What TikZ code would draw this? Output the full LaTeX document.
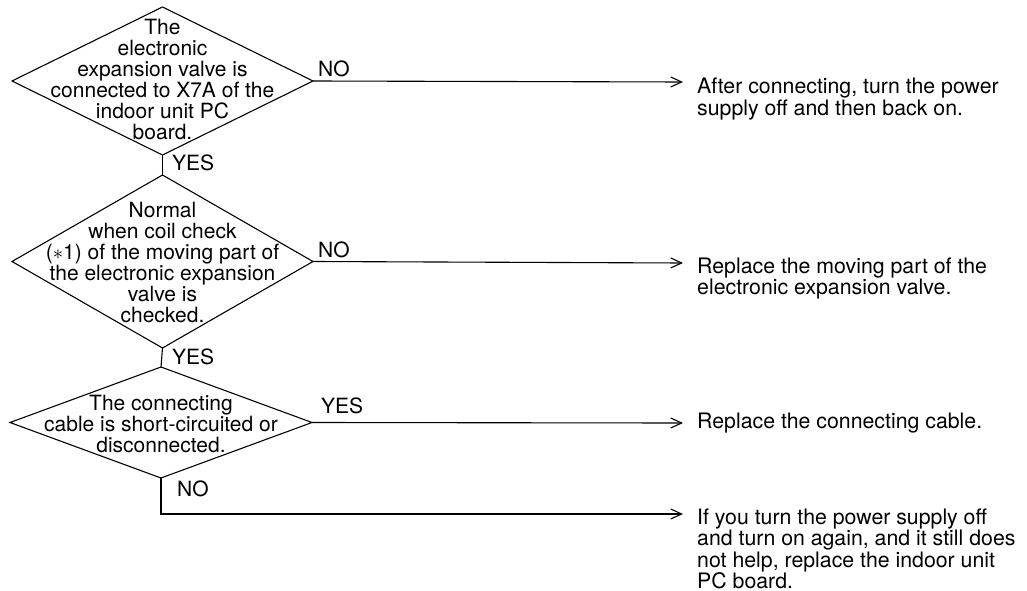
\documentclass[tikz,border=0pt]{standalone}
\usepackage{fontspec}
\setmainfont{TeX Gyre Heros}
\usetikzlibrary{shapes.geometric,arrows.meta}
\tikzset{
  dec/.style={diamond, draw, line width=1.1pt, inner sep=0pt, outer sep=0pt},
  dtext/.style={align=center, inner sep=0pt, font=\fontsize{21}{21}\selectfont},
  rtext/.style={align=left, inner sep=0pt, anchor=north west, font=\fontsize{21.3}{20}\selectfont},
  lab/.style={inner sep=0pt, anchor=base west, font=\fontsize{21}{21}\selectfont},
  conn/.style={line width=1.1pt},
  arr/.style={line width=1.1pt, -{Straight Barb[length=11pt,width=10pt,line width=1.1pt]}},
}
\begin{document}
\begin{tikzpicture}[x=1pt,y=-1pt]
\useasboundingbox (0,0) rectangle (1027,591);
% decisions
\node[dec, minimum width=301pt, minimum height=148pt] (d1) at (162.5,81) {};
\node[dtext] (t1) at (162.5,80) {The\\electronic\\expansion valve is\\connected to X7A of the\\indoor unit PC\\board.};
\node[dec, minimum width=301pt, minimum height=173pt] (d2) at (162.5,261.5) {};
\node[dtext] (t2) at (162.5,263) {Normal\\when coil check\\($\ast$1) of the moving part of\\the electronic expansion\\valve is\\checked.};
\node[dec, minimum width=302pt, minimum height=111pt] (d3) at (161,422.5) {};
\node[dtext] (t3) at (161,424) {The connecting\\cable is short-circuited or\\disconnected.};
% results
\node[rtext] (r1) at (697,78) {After connecting, turn the power\\supply off and then back on.};
\node[rtext] (r2) at (697,258) {Replace the moving part of the\\electronic expansion valve.};
\node[lab, anchor=west, font=\fontsize{21.3}{20}\selectfont] (r3) at (697,423) {Replace the connecting cable.};
\node[rtext, font=\fontsize{21.3}{19.5}\selectfont] (r4) at (697,509) {If you turn the power supply off\\and turn on again, and it still does\\not help, replace the indoor unit\\PC board.};
% arrow end points
\coordinate (e1) at (683,82);
\coordinate (e2) at (683,263);
\coordinate (e3) at (683,423);
\coordinate (e4) at (683,514);
\coordinate (k4) at (161,514);
% connectors
\draw[conn] (d1.south) -- (d2.north);
\draw[conn] (d2.south) -- (d3.north);
\draw[arr] (d1.east) -- (e1);
\draw[arr] (d2.east) -- (e2);
\draw[arr] (d3.east) -- (e3);
\draw[arr] (d3.south) -- (k4) -- (e4);
% labels
\node[lab] (l1) at (318,77) {NO};
\node[lab] (l2) at (318,257) {NO};
\node[lab] (l3) at (321,413) {YES};
\node[lab] (l4) at (172,170) {YES};
\node[lab] (l5) at (172,364) {YES};
\node[lab] (l6) at (177,496) {NO};
\end{tikzpicture}
\end{document}
